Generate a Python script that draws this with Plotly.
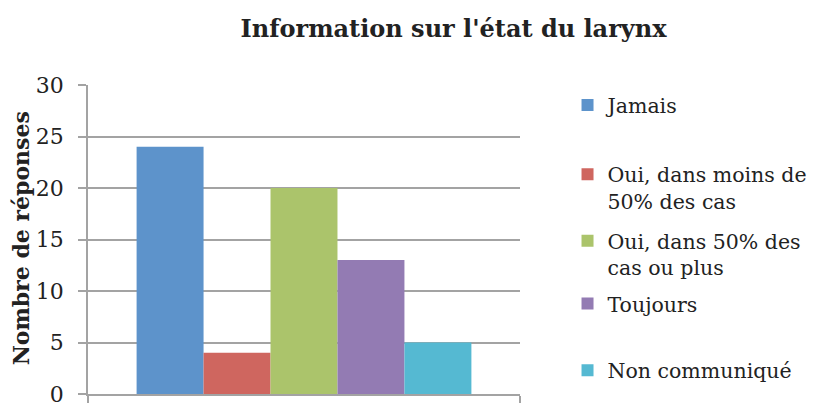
import plotly.graph_objects as go

categories = ["Information sur l'état du larynx"]
series_names = ["Jamais", "Oui, dans moins de<br>50% des cas", "Oui, dans 50% des<br>cas ou plus",
                "Toujours", "Non communiqué"]
series_values = [24, 4, 20, 13, 5]
colors = ["#5D93CB", "#CF665F", "#ABC46B", "#937BB3", "#55B9D2"]
legend_y = [0.935, 0.667, 0.452, 0.292, 0.076]
y_ticks = [0, 5, 10, 15, 20, 25, 30]

FONT = "DejaVu Serif"

fig = go.Figure()
for i, (name, val, col) in enumerate(zip(series_names, series_values, colors)):
    lg = "legend" if i == 0 else f"legend{i+1}"
    fig.add_trace(go.Bar(x=[0], y=[val], name=name, marker=dict(color=col, line=dict(width=0)),
                         legend=lg, showlegend=True))

legend_common = dict(x=1.110, xanchor="left", yanchor="middle", bgcolor="rgba(0,0,0,0)",
                     font=dict(family=FONT, size=20.5, color="#222"), valign="top",
                     itemsizing="constant", tracegroupgap=0)
lay = {}
for i, y in enumerate(legend_y):
    key = "legend" if i == 0 else f"legend{i+1}"
    lay[key] = dict(legend_common, y=y)

fig.update_layout(
    width=827, height=403,
    margin=dict(l=80, r=315, t=77, b=16.5, autoexpand=False),
    paper_bgcolor="white", plot_bgcolor="white",
    barmode="group", bargap=0.225, bargroupgap=0,
    title=dict(text="<b>Information sur l'état du larynx</b>", x=0.5387, xanchor="center",
               y=0.950, yanchor="middle", font=dict(family=FONT, size=24, color="#222")),
    xaxis=dict(type="linear", range=[-0.5, 0.5], showticklabels=False, showgrid=False,
               showline=True, linecolor="#A3A3A3", linewidth=1.5,
               tickvals=[-0.5, 0.5], ticks="outside", ticklen=8, tickcolor="#A3A3A3", tickwidth=1.5),
    yaxis=dict(range=[0, 30], tickvals=y_ticks, showgrid=True, gridcolor="#A3A3A3", gridwidth=1.5,
               showline=True, linecolor="#A3A3A3", linewidth=1.5, ticks="outside", ticklen=8,
               tickcolor="#A3A3A3", tickwidth=1.5, zeroline=False, ticklabelstandoff=10,
               tickfont=dict(family=FONT, size=22, color="#222")),
    annotations=[dict(text="<b>Nombre de réponses</b>", textangle=-90, xref="paper", yref="paper",
                      x=-0.155, y=0.504, xanchor="center", yanchor="middle", showarrow=False,
                      font=dict(family=FONT, size=22, color="#222"))],
    **lay,
)
fig.write_html("out.html")
